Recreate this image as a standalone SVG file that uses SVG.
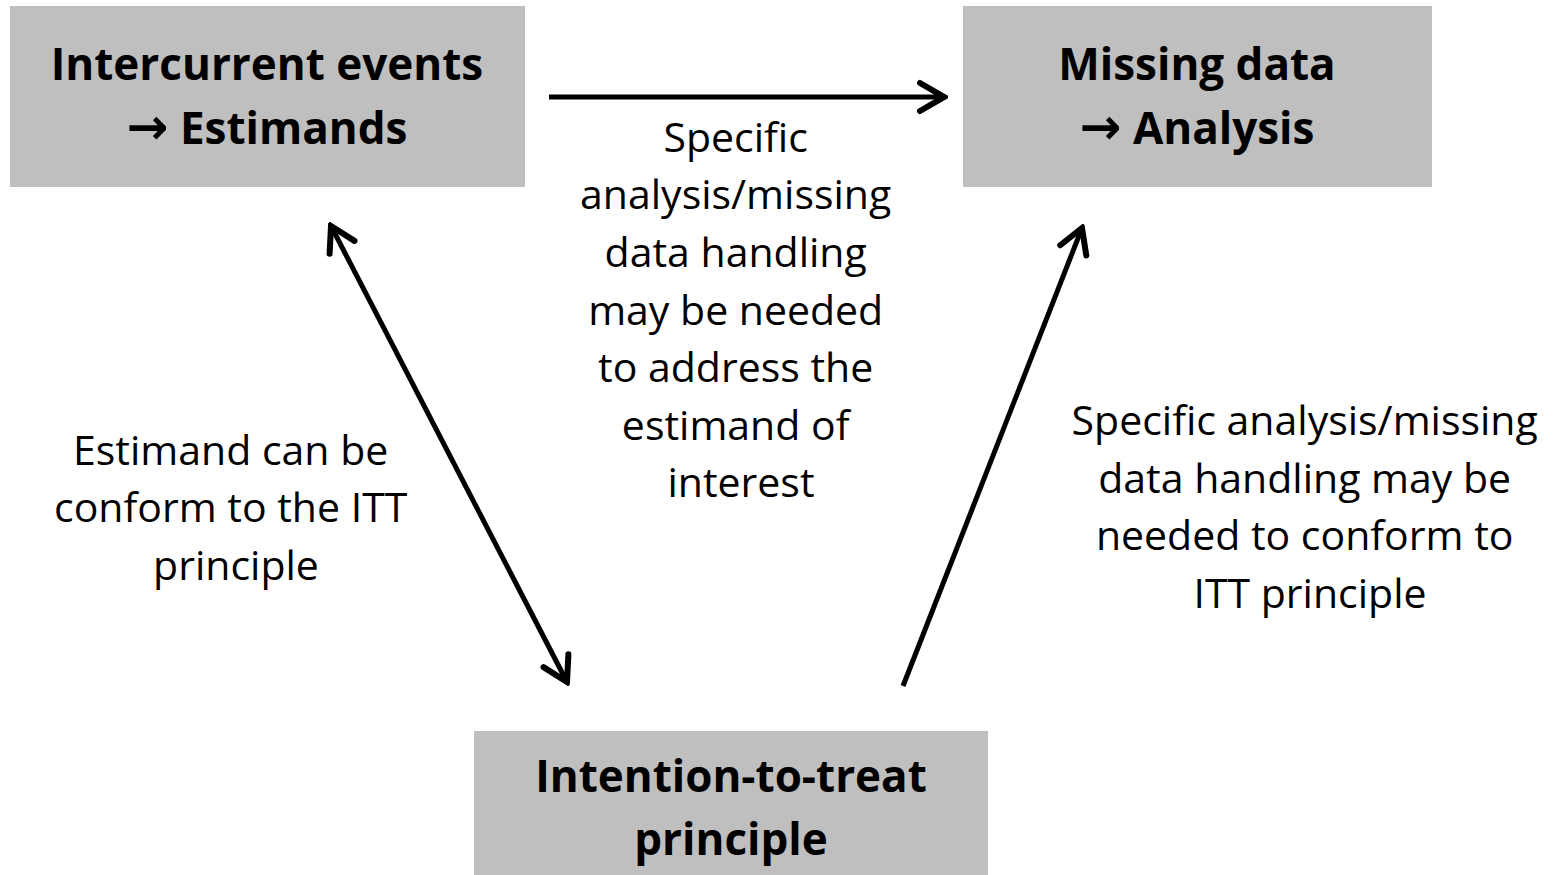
<svg xmlns="http://www.w3.org/2000/svg" width="1567" height="875" viewBox="0 0 1567 875">
  <style>
    .box { fill: #bfbfbf; }
    .title { font-family: "Open Sans", "Noto Sans", sans-serif; font-weight: bold; font-size: 44px; fill: #000; text-anchor: middle; }
    .arrow-glyph { font-family: "DejaVu Sans", sans-serif; font-weight: bold; font-size: 50px; }
    .label { font-family: "Open Sans", "Noto Sans", sans-serif; font-size: 41px; fill: #000; text-anchor: middle; }
    .conn { stroke: #000; stroke-width: 5; fill: none; }
  </style>
  <defs>
    <marker id="open-arrow" viewBox="-30 -20 34 40" refX="0" refY="0" markerWidth="34" markerHeight="40" markerUnits="userSpaceOnUse" orient="auto-start-reverse">
      <path d="M -24 -14 L 0 0 L -24 14" fill="none" stroke="#000" stroke-width="6" stroke-linecap="round" stroke-linejoin="miter"/>
    </marker>
  </defs>

  <g id="node-intercurrent">
    <rect class="box" x="10" y="6" width="515" height="181"/>
    <text class="title" x="267" y="80">Intercurrent events</text>
    <text class="title" x="267" y="144"><tspan class="arrow-glyph">→</tspan> Estimands</text>
  </g>

  <g id="node-missing">
    <rect class="box" x="963" y="6" width="469" height="181"/>
    <text class="title" x="1197" y="80">Missing data</text>
    <text class="title" x="1197" y="144"><tspan class="arrow-glyph">→</tspan> Analysis</text>
  </g>

  <g id="node-itt">
    <rect class="box" x="474" y="731" width="514" height="144"/>
    <text class="title" x="731" y="792">Intention-to-treat</text>
    <text class="title" x="731" y="855">principle</text>
  </g>

  <g id="connectors">
    <line class="conn" x1="549" y1="97" x2="944" y2="97" marker-end="url(#open-arrow)"/>
    <line class="conn" x1="331" y1="226" x2="567" y2="682" marker-start="url(#open-arrow)" marker-end="url(#open-arrow)"/>
    <line class="conn" x1="903" y1="686" x2="1082" y2="228" marker-end="url(#open-arrow)"/>
  </g>

  <g id="labels">
    <text class="label" x="740">
      <tspan x="741" y="152">Specific</tspan>
      <tspan x="741" y="209">analysis/missing</tspan>
      <tspan x="741" y="267">data handling</tspan>
      <tspan x="741" y="325">may be needed</tspan>
      <tspan x="741" y="382">to address the</tspan>
      <tspan x="741" y="440">estimand of</tspan>
      <tspan x="741" y="497">interest</tspan>
    </text>
    <text class="label" x="236">
      <tspan x="236" y="465">Estimand can be</tspan>
      <tspan x="236" y="522">conform to the ITT</tspan>
      <tspan x="236" y="580">principle</tspan>
    </text>
    <text class="label" x="1310">
      <tspan x="1310" y="435">Specific analysis/missing</tspan>
      <tspan x="1310" y="493">data handling may be</tspan>
      <tspan x="1310" y="550">needed to conform to</tspan>
      <tspan x="1310" y="608">ITT principle</tspan>
    </text>
  </g>
</svg>
